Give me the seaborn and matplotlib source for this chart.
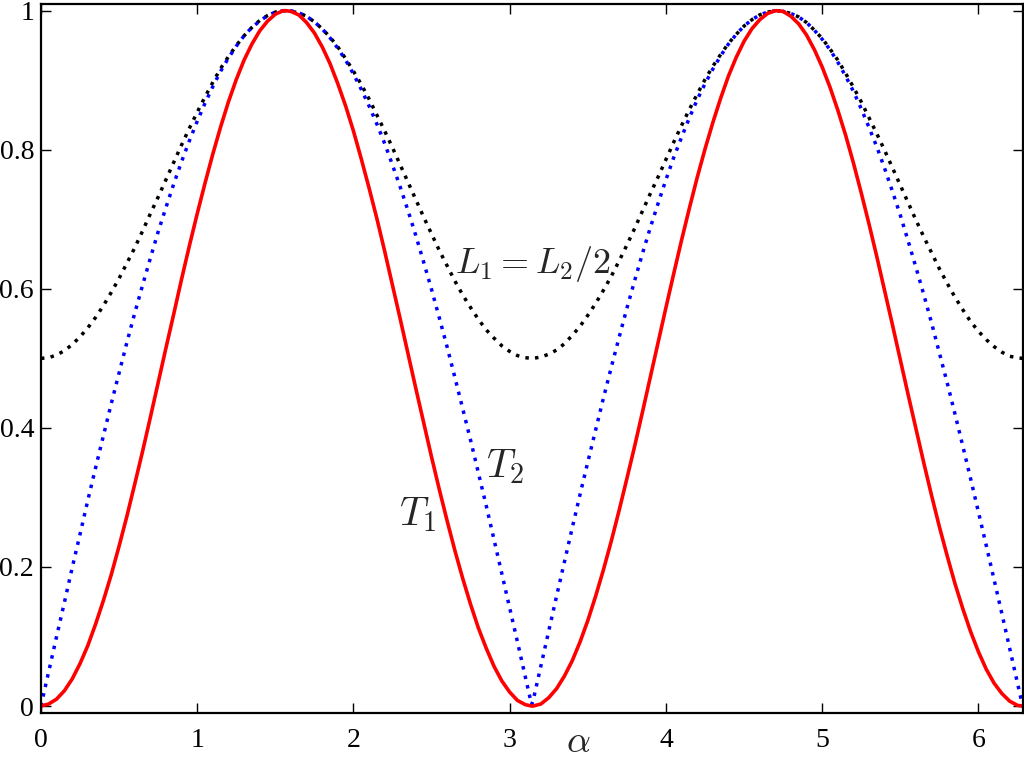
import numpy as np
import pandas as pd
import matplotlib
matplotlib.use('AGG')
import matplotlib.pyplot as plt
import seaborn as sns

# alpha values (rad), main grid
alpha = [0.0, 0.1, 0.2, 0.3, 0.4, 0.5, 0.6, 0.7, 0.8, 0.9,
         1.0, 1.1, 1.2, 1.3, 1.4, 1.5, 1.57, 1.6, 1.7, 1.8, 1.9,
         2.0, 2.1, 2.2, 2.3, 2.4, 2.5, 2.6, 2.7, 2.8, 2.9,
         3.0, 3.1, 3.14, 3.2, 3.3, 3.4, 3.5, 3.6, 3.7, 3.8, 3.9,
         4.0, 4.1, 4.2, 4.3, 4.4, 4.5, 4.6, 4.7, 4.71, 4.8, 4.9,
         5.0, 5.1, 5.2, 5.3, 5.4, 5.5, 5.6, 5.7, 5.8, 5.9,
         6.0, 6.1, 6.2, 6.28]

# T1 (red, solid)
t1 = [0.000, 0.010, 0.039, 0.087, 0.152, 0.230, 0.319, 0.415, 0.515, 0.614,
      0.708, 0.794, 0.869, 0.929, 0.971, 0.995, 1.000, 0.999, 0.983, 0.948, 0.895,
      0.827, 0.745, 0.654, 0.556, 0.456, 0.358, 0.266, 0.183, 0.112, 0.057,
      0.020, 0.002, 0.000, 0.003, 0.025, 0.065, 0.123, 0.196, 0.281, 0.374, 0.473,
      0.573, 0.670, 0.760, 0.839, 0.906, 0.956, 0.987, 1.000, 1.000, 0.992, 0.965,
      0.919, 0.857, 0.781, 0.693, 0.597, 0.498, 0.399, 0.303, 0.216, 0.140,
      0.078, 0.033, 0.007, 0.000]

# T2 (blue, dotted)
t2 = [0.000, 0.100, 0.199, 0.296, 0.389, 0.479, 0.565, 0.644, 0.717, 0.783,
      0.841, 0.891, 0.932, 0.964, 0.985, 0.998, 1.000, 1.000, 0.992, 0.974, 0.946,
      0.909, 0.863, 0.809, 0.746, 0.676, 0.599, 0.516, 0.427, 0.335, 0.239,
      0.141, 0.042, 0.002, 0.058, 0.158, 0.256, 0.351, 0.443, 0.530, 0.612, 0.688,
      0.757, 0.818, 0.872, 0.916, 0.952, 0.978, 0.994, 1.000, 1.000, 0.996, 0.983,
      0.959, 0.926, 0.884, 0.832, 0.773, 0.706, 0.631, 0.551, 0.465, 0.374,
      0.279, 0.182, 0.083, 0.003]

# L1 = L2/2 (black, dotted)
l12 = [0.500, 0.505, 0.520, 0.544, 0.576, 0.615, 0.659, 0.708, 0.757, 0.807,
       0.854, 0.897, 0.934, 0.964, 0.986, 0.998, 1.000, 0.999, 0.992, 0.974, 0.948,
       0.913, 0.873, 0.827, 0.778, 0.728, 0.679, 0.633, 0.591, 0.556, 0.529,
       0.510, 0.501, 0.500, 0.502, 0.512, 0.533, 0.562, 0.598, 0.640, 0.687, 0.737,
       0.786, 0.835, 0.880, 0.920, 0.953, 0.978, 0.994, 1.000, 1.000, 0.996, 0.983,
       0.960, 0.929, 0.890, 0.846, 0.799, 0.749, 0.699, 0.652, 0.608, 0.570,
       0.539, 0.517, 0.503, 0.500]

# extra readings between the main grid points
alpha_mid = [0.05, 0.15, 0.25, 0.35, 0.45, 0.55, 0.65, 0.75, 0.85, 0.95,
             1.05, 1.15, 1.25, 1.35, 1.45, 1.55, 1.65, 1.75, 1.85, 1.95,
             2.05, 2.15, 2.25, 2.35, 2.45, 2.55, 2.65, 2.75, 2.85, 2.95,
             3.05, 3.15, 3.25, 3.35, 3.45, 3.55, 3.65, 3.75, 3.85, 3.95,
             4.05, 4.15, 4.25, 4.35, 4.45, 4.55, 4.65, 4.75, 4.85, 4.95,
             5.05, 5.15, 5.25, 5.35, 5.45, 5.55, 5.65, 5.75, 5.85, 5.95,
             6.05, 6.15, 6.25]

t1_mid = [0.003, 0.022, 0.061, 0.118, 0.189, 0.273, 0.366, 0.465, 0.564, 0.662,
          0.752, 0.833, 0.901, 0.952, 0.985, 1.000, 0.994, 0.968, 0.924, 0.863,
          0.787, 0.701, 0.605, 0.506, 0.407, 0.311, 0.223, 0.146, 0.083, 0.036,
          0.008, 0.000, 0.012, 0.043, 0.092, 0.158, 0.237, 0.327, 0.423, 0.523,
          0.622, 0.716, 0.801, 0.874, 0.933, 0.974, 0.996, 0.999, 0.981, 0.944,
          0.890, 0.821, 0.738, 0.646, 0.548, 0.448, 0.350, 0.258, 0.176, 0.107,
          0.053, 0.018, 0.001]

t2_mid = [0.050, 0.149, 0.247, 0.343, 0.435, 0.523, 0.605, 0.682, 0.751, 0.813,
          0.867, 0.913, 0.949, 0.976, 0.993, 1.000, 0.997, 0.984, 0.961, 0.929,
          0.887, 0.837, 0.778, 0.712, 0.638, 0.558, 0.472, 0.382, 0.288, 0.190,
          0.092, 0.008, 0.108, 0.207, 0.304, 0.397, 0.487, 0.572, 0.651, 0.723,
          0.789, 0.846, 0.895, 0.935, 0.966, 0.987, 0.998, 0.999, 0.991, 0.972,
          0.944, 0.906, 0.859, 0.804, 0.740, 0.669, 0.592, 0.508, 0.420, 0.327,
          0.231, 0.133, 0.033]

l12_mid = [0.501, 0.511, 0.531, 0.559, 0.595, 0.637, 0.683, 0.732, 0.782, 0.831,
           0.876, 0.917, 0.950, 0.976, 0.993, 1.000, 0.997, 0.984, 0.962, 0.931,
           0.894, 0.850, 0.803, 0.753, 0.703, 0.655, 0.611, 0.573, 0.541, 0.518,
           0.504, 0.500, 0.506, 0.521, 0.546, 0.579, 0.618, 0.663, 0.712, 0.761,
           0.811, 0.858, 0.901, 0.937, 0.966, 0.987, 0.998, 0.999, 0.991, 0.972,
           0.945, 0.910, 0.869, 0.823, 0.774, 0.724, 0.675, 0.629, 0.588, 0.553,
           0.527, 0.509, 0.501]

xticks = [0, 1, 2, 3, 4, 5, 6]
xtick_labels = ['0', '1', '2', '3', '4', '5', '6']
yticks = [0, 0.2, 0.4, 0.6, 0.8, 1.0]
ytick_labels = ['0', '0.2', '0.4', '0.6', '0.8', '1']

df = pd.DataFrame({'alpha': alpha + alpha_mid,
                   'T1': t1 + t1_mid,
                   'T2': t2 + t2_mid,
                   'L': l12 + l12_mid}).sort_values('alpha')

sns.set_style('ticks')
plt.rcParams['font.family'] = ['Liberation Serif', 'DejaVu Serif']
plt.rcParams['mathtext.fontset'] = 'cm'

fig = plt.figure(figsize=(10.24, 7.63), dpi=100)
ax = fig.add_axes([0.0400, 0.0659, 0.9587, 0.9288])

sns.lineplot(data=df, x='alpha', y='L', color='black', lw=2.5,
             linestyle=(0, (1, 1.8)), ax=ax)
sns.lineplot(data=df, x='alpha', y='T2', color='#0000ff', lw=2.5,
             linestyle=(0, (1, 1.8)), ax=ax)
sns.lineplot(data=df, x='alpha', y='T1', color='#ff0000', lw=2.6, ax=ax)

ax.set_xlim(0, 2 * np.pi)
ax.set_ylim(-0.0096, 1.0096)
ax.set_xticks(xticks)
ax.set_xticklabels(xtick_labels)
ax.set_yticks(yticks)
ax.set_yticklabels(ytick_labels)
ax.tick_params(direction='in', length=7, width=1.0, labelsize=20,
               top=True, right=True, colors='black')
ax.tick_params(axis='x', pad=11)
ax.tick_params(axis='y', pad=5)
for s in ax.spines.values():
    s.set_linewidth(1.6)
    s.set_color('black')

ax.set_ylabel('')
ax.set_xlabel(r'$\alpha$', fontsize=27)
ax.xaxis.set_label_coords(0.547, -0.043)
ax.xaxis.label.set_va('center')

ax.text(2.41, 0.275, r'$T_1$', fontsize=29, ha='center', va='center')
ax.text(2.97, 0.344, r'$T_2$', fontsize=29, ha='center', va='center')
ax.text(3.15, 0.636, r'$L_1 = L_2/2$', fontsize=26, ha='center', va='center')

fig.savefig('out.png', dpi=100)
